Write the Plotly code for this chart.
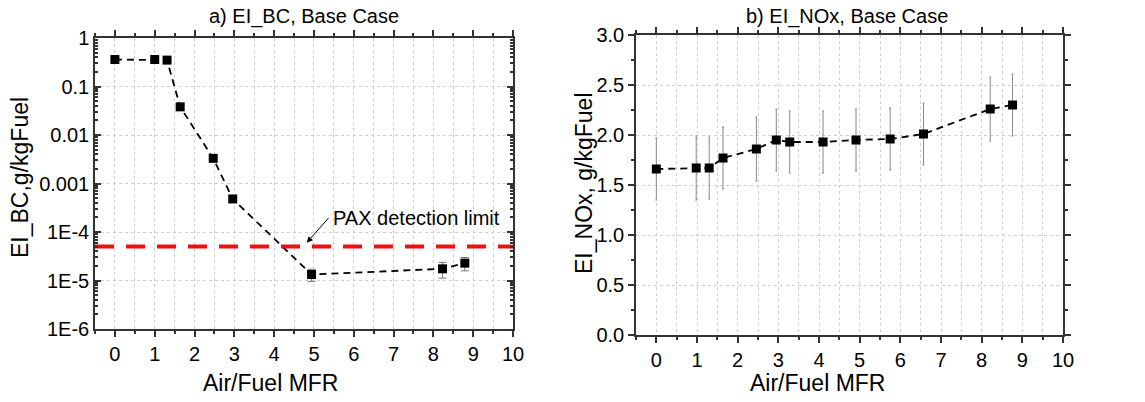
import plotly.graph_objects as go

# ---- data ----
mfr_bc = [0, 1.0, 1.31, 1.64, 2.47, 2.96, 4.94, 8.23, 8.79]
ei_bc = [0.36, 0.36, 0.35, 0.038, 0.0033, 0.00048, 1.33e-5, 1.74e-5, 2.28e-5]
ei_bc_err = [0, 0, 0, 0, 0, 0, 3.7e-6, 6.2e-6, 7.0e-6]

mfr_nox = [0, 0.98, 1.30, 1.64, 2.46, 2.95, 3.28, 4.10, 4.91, 5.75, 6.57, 8.21, 8.76]
ei_nox = [1.66, 1.67, 1.67, 1.77, 1.86, 1.95, 1.93, 1.93, 1.95, 1.96, 2.01, 2.26, 2.30]
ei_nox_err = [0.31, 0.32, 0.31, 0.31, 0.32, 0.31, 0.31, 0.31, 0.31, 0.31, 0.31, 0.32, 0.31]

pax_limit = 5e-5
x_ticks = list(range(0, 11))
bc_tickvals = [1e-6, 1e-5, 1e-4, 1e-3, 1e-2, 1e-1, 1]
bc_ticktext = ["1E-6", "1E-5", "1E-4", "0.001", "0.01", "0.1", "1"]
bc_minor = [m * 10 ** e for e in range(-6, 0) for m in range(2, 10)]

FONT = "Liberation Sans, Arial, sans-serif"
AX = "#333333"
GRID = "#cfcfcf"

W, H = 1145, 402

fig = go.Figure()

fig.add_trace(go.Scatter(
    x=mfr_bc, y=ei_bc, mode="lines+markers", xaxis="x", yaxis="y",
    line=dict(color="black", width=1.8, dash="7px,5px"),
    marker=dict(symbol="square", size=9, color="black"),
    error_y=dict(type="data", array=ei_bc_err, color="#777777", thickness=1, width=4),
    showlegend=False))

fig.add_trace(go.Scatter(
    x=[-0.5, 10], y=[pax_limit, pax_limit], mode="lines", xaxis="x", yaxis="y",
    line=dict(color="#ee1111", width=4, dash="19px,12px"), showlegend=False))

fig.add_trace(go.Scatter(
    x=mfr_nox, y=ei_nox, mode="lines+markers", xaxis="x2", yaxis="y2",
    line=dict(color="black", width=1.8, dash="7px,5px"),
    marker=dict(symbol="square", size=9, color="black"),
    error_y=dict(type="data", array=ei_nox_err, color="#888888", thickness=1, width=1),
    showlegend=False))

def xax(domain, anchor):
    return dict(domain=domain, anchor=anchor, range=[-0.5, 10], automargin=False,
                tickmode="array", tickvals=x_ticks, ticks="outside", ticklen=6,
                tickwidth=1.5, tickcolor=AX,
                minor=dict(dtick=0.5, tick0=0, ticks="outside", ticklen=3,
                           tickcolor=AX, showgrid=True, gridcolor=GRID, griddash="dot"),
                showline=True, linecolor=AX, linewidth=1.5, mirror="ticks",
                showgrid=True, gridcolor=GRID, griddash="dot", gridwidth=1,
                zeroline=False, tickfont=dict(size=20, family=FONT, color="black"))

fig.update_layout(
    width=W, height=H, margin=dict(l=0, r=0, t=0, b=0, autoexpand=False),
    plot_bgcolor="white", paper_bgcolor="white",
    font=dict(family=FONT, color="black"),
    xaxis=xax([95 / W, 513 / W], "y"),
    yaxis=dict(domain=[1 - 329 / H, 1 - 38 / H], anchor="x", type="log",
               automargin=False,
               range=[-6, 0], tickmode="array", tickvals=bc_tickvals,
               ticktext=bc_ticktext, ticks="inside", ticklen=6, tickwidth=1.5,
               tickcolor=AX,
               minor=dict(tickvals=bc_minor, ticks="inside", ticklen=3, tickcolor=AX,
                          showgrid=False),
               showline=True, linecolor=AX, linewidth=1.5, mirror="ticks",
               showgrid=True, gridcolor=GRID, griddash="dot", zeroline=False,
               tickfont=dict(size=20, family=FONT, color="black")),
    xaxis2=xax([636 / W, 1063 / W], "y2"),
    yaxis2=dict(domain=[1 - 335 / H, 1 - 35 / H], anchor="x2", range=[0, 3],
                automargin=False,
                dtick=0.5, tick0=0, tickformat=".1f", ticks="outside", ticklen=6,
                tickwidth=1.5, tickcolor=AX,
                minor=dict(dtick=0.25, tick0=0, ticks="outside", ticklen=3,
                           tickcolor=AX, showgrid=False),
                showline=True, linecolor=AX, linewidth=1.5, mirror="ticks",
                showgrid=True, gridcolor=GRID, griddash="dot", zeroline=False,
                tickfont=dict(size=20, family=FONT, color="black")),
)

def ann(x, y, text, size, angle=0, xanchor="center"):
    fig.add_annotation(x=x / W, y=1 - y / H, xref="paper", yref="paper",
                       text=text, showarrow=False, textangle=angle,
                       xanchor=xanchor, yanchor="middle",
                       font=dict(size=size, family=FONT, color="black"))

ann(304, 17, "a) EI_BC, Base Case", 20)
ann(847, 17, "b) EI_NOx, Base Case", 20)
ann(270, 383, "Air/Fuel MFR", 23)
ann(817, 383, "Air/Fuel MFR", 23)
ann(20, 178, "EI_BC,g/kgFuel", 23, angle=-90)
ann(584, 183, "EI_NOx, g/kgFuel", 23, angle=-90)
ann(331, 218, "PAX detection limit", 20, xanchor="left")

# arrow pointing at the detection limit line
fig.add_annotation(x=4.82, y=-4.22, xref="x", yref="y",
                   ax=5.4, ay=-3.68, axref="x", ayref="y",
                   text="", showarrow=True, arrowhead=2, arrowsize=1.2,
                   arrowwidth=1, arrowcolor="black")

fig.write_html("out.html")
